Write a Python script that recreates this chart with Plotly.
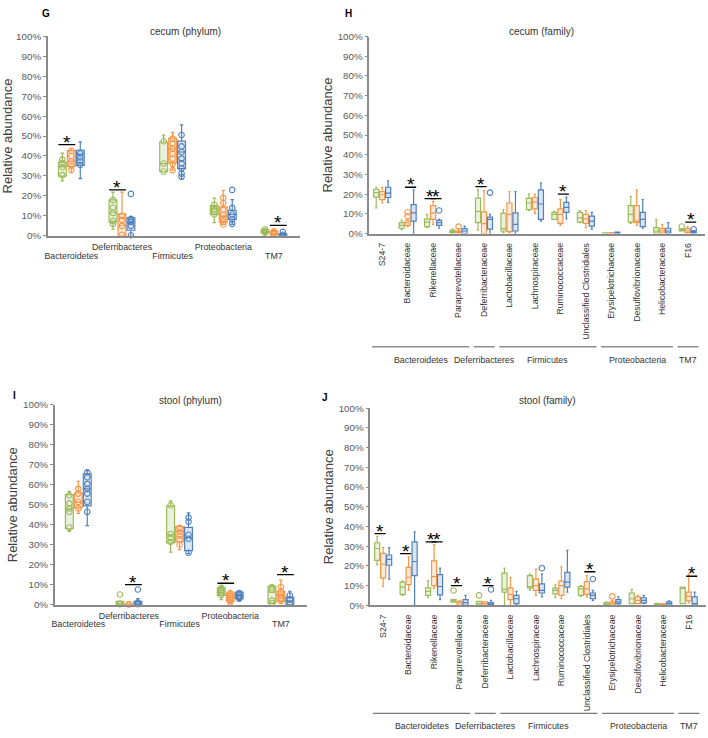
import plotly.graph_objects as go

# ---------------- data ----------------
phyla = ["Bacteroidetes", "Deferribacteres", "Firmicutes", "Proteobacteria", "TM7"]
families = ["S24-7", "Bacteroidaceae", "Rikenellaceae", "Paraprevotellaceae", "Deferribacteraceae",
            "Lactobacillaceae", "Lachnospiraceae", "Ruminococcaceae", "Unclassified Clostridiales",
            "Erysipelotrichaceae", "Desulfovibrionaceae", "Helicobacteraceae", "F16"]
family_groups = ["Bacteroidetes", "Deferribacteres", "Firmicutes", "Proteobacteria", "TM7"]
family_group_first = [0, 4, 5, 9, 12]
family_group_last = [3, 4, 8, 11, 12]

# cecum (phylum)  -- green / orange / blue groups
G_green_low = [27.5, 3.3, 32.0, 6.6, 1.0]
G_green_q1 = [29.9, 6.9, 32.1, 10.7, 1.5]
G_green_med = [34.5, 11.8, 36.2, 13.5, 2.0]
G_green_q3 = [36.8, 18.0, 47.0, 15.1, 3.0]
G_green_up = [41.4, 21.9, 50.5, 18.9, 3.8]
G_orange_low = [31.6, 0.0, 32.9, 5.7, 0.2]
G_orange_q1 = [34.8, 0.0, 36.5, 6.9, 0.5]
G_orange_med = [37.4, 5.3, 43.6, 9.9, 1.3]
G_orange_q3 = [42.7, 11.0, 49.0, 14.5, 2.3]
G_orange_up = [43.8, 21.9, 51.8, 22.7, 3.0]
G_blue_low = [28.7, 0.0, 28.3, 5.7, 0.0]
G_blue_q1 = [35.3, 2.8, 33.7, 8.2, 0.0]
G_blue_med = [41.0, 6.6, 42.0, 10.7, 0.4]
G_blue_q3 = [43.0, 9.0, 47.4, 12.8, 1.0]
G_blue_up = [47.1, 9.5, 55.6, 18.1, 1.2]
G_green_pts = [[38.2, 36.5, 34.5, 30.4], [18.0, 14.2, 11.5, 7.5, 6.0], [47.4, 36.2, 32.2],
               [15.6, 13.5, 12.2, 10.7], [3.2, 2.0, 1.6]]
G_orange_pts = [[42.5, 40.0, 37.4, 35.1, 33.0], [10.0, 8.0, 5.0, 0.5],
                [48.7, 46.2, 43.6, 41.1, 38.6, 36.0, 32.9], [19.0, 16.5, 13.0, 10.5, 8.5, 7.0, 5.7],
                [2.3, 1.5, 0.8]]
G_blue_pts = [[41.3, 39.3, 37.5, 35.5], [21.0, 8.5, 7.0, 5.0, 0.3],
              [50.5, 44.8, 42.0, 38.7, 36.3, 33.7, 31.2, 29.6], [23.0, 14.0, 10.7, 8.2, 6.0], [2.0, 0.5]]
G_sig_cat = [0, 1, 4]
G_sig_left = [0, 0, 1]
G_sig_y = [45.7, 23.0, 5.2]

# cecum (family)
H_green_low = [13.0, 2.0, 3.0, 0.0, 1.7, 0.5, 11.8, 7.2, 5.5, 0.0, 5.2, 0.0, 1.3]
H_green_q1 = [18.5, 2.7, 3.5, 0.3, 5.5, 1.3, 12.2, 7.2, 5.8, 0.0, 5.8, 0.2, 1.3]
H_green_med = [20.8, 4.2, 5.8, 1.0, 11.3, 2.5, 15.5, 9.7, 8.0, 0.1, 9.7, 1.3, 1.8]
H_green_q3 = [22.5, 5.5, 7.5, 1.7, 18.0, 10.2, 18.0, 10.8, 10.8, 0.3, 14.2, 3.0, 2.2]
H_green_up = [23.5, 6.8, 9.7, 2.2, 22.2, 12.2, 20.2, 11.3, 11.7, 0.4, 18.8, 7.2, 2.4]
H_orange_low = [15.5, 3.5, 4.7, 0.0, 0.0, 0.2, 10.2, 4.2, 3.0, 0.0, 4.2, 0.0, 0.2]
H_orange_q1 = [17.2, 4.2, 7.2, 0.3, 0.0, 1.0, 12.5, 5.2, 5.2, 0.0, 5.5, 0.2, 0.5]
H_orange_med = [19.7, 5.5, 10.5, 0.8, 5.0, 9.7, 16.0, 9.7, 7.5, 0.2, 6.3, 1.3, 1.3]
H_orange_q3 = [21.3, 6.5, 14.2, 1.3, 11.0, 15.5, 18.3, 12.5, 9.7, 0.4, 14.2, 2.5, 2.5]
H_orange_up = [23.5, 7.2, 16.3, 2.5, 21.8, 21.3, 20.0, 17.2, 11.7, 0.5, 22.2, 4.7, 3.5]
H_blue_low = [15.8, 0.0, 2.7, 0.0, 0.0, 0.0, 6.3, 7.5, 2.2, 0.0, 2.7, 0.0, 0.0]
H_blue_q1 = [18.3, 6.3, 4.2, 0.0, 2.2, 1.3, 7.2, 10.8, 3.8, 0.0, 3.5, 0.2, 0.2]
H_blue_med = [20.5, 10.5, 5.5, 1.3, 7.2, 4.7, 15.0, 13.3, 6.3, 0.3, 7.2, 1.3, 0.5]
H_blue_q3 = [23.5, 14.7, 6.7, 2.5, 8.3, 10.5, 22.2, 15.8, 8.8, 0.7, 10.8, 2.7, 1.3]
H_blue_up = [26.8, 22.2, 7.2, 3.8, 9.7, 21.3, 25.8, 18.5, 10.8, 0.8, 17.2, 5.5, 1.5]
H_green_pts = [[], [], [], [], [], [], [], [], [], [], [], [], [3.6]]
H_orange_pts = [[], [10.8, 8.8], [], [3.5], [], [], [], [], [], [], [], [], []]
H_blue_pts = [[], [], [11.7], [], [20.8], [], [], [], [], [], [], [], [2.2]]
H_sig_cat = [1, 2, 2, 4, 7, 12]
H_sig_left = [1, 0, 1, 0, 1, 1]
H_sig_y = [23.5, 17.7, 17.7, 23.8, 20.0, 5.8]

# stool (phylum)
I_green_low = [36.7, 0.0, 26.3, 2.5, 0.5]
I_green_q1 = [38.0, 0.0, 30.9, 4.6, 0.8]
I_green_med = [48.0, 0.5, 35.0, 6.3, 6.3]
I_green_q3 = [55.1, 1.6, 49.5, 8.4, 9.2]
I_green_up = [56.7, 1.6, 52.0, 9.0, 9.5]
I_orange_low = [45.7, 0.0, 27.6, 0.8, 0.8]
I_orange_q1 = [48.5, 0.0, 31.4, 1.8, 1.8]
I_orange_med = [51.5, 0.1, 36.7, 3.8, 4.6]
I_orange_q3 = [55.9, 0.3, 39.1, 5.8, 6.7]
I_orange_up = [61.8, 0.4, 39.6, 6.7, 12.3]
I_blue_low = [39.6, 0.0, 25.5, 2.1, 0.0]
I_blue_q1 = [49.5, 0.0, 27.1, 3.0, 0.0]
I_blue_med = [58.0, 0.8, 33.4, 4.6, 1.8]
I_blue_q3 = [65.5, 1.6, 38.7, 6.3, 3.8]
I_blue_up = [67.1, 3.0, 46.0, 6.7, 6.7]
I_green_pts = [[54.8, 50.7, 48.2, 46.5, 38.6], [5.1, 0.5, 0.2], [49.8, 35.4, 33.4, 31.4],
               [8.4, 7.0, 6.0, 4.8], [8.8, 7.5, 2.0, 0.8]]
I_orange_pts = [[58.0, 55.6, 51.5, 48.2], [0.2, 0.1], [38.5, 36.5, 34.5, 32.8, 30.0],
                [5.8, 4.6, 3.5, 2.3, 1.2], [8.8, 6.5, 4.6, 3.0, 1.8]]
I_blue_pts = [[66.3, 63.8, 60.5, 58.0, 55.6, 51.5, 46.5], [7.6, 1.0, 0.3],
              [43.6, 41.6, 35.0, 33.0, 26.0], [5.8, 4.6, 3.8, 3.0], [4.6, 2.5, 0.5]]
I_sig_cat = [1, 3, 4]
I_sig_left = [1, 0, 1]
I_sig_y = [10.0, 10.7, 15.0]

# stool (family)
J_green_low = [20.5, 5.0, 3.8, 1.5, 0.0, 0.0, 7.5, 3.8, 4.5, 0.0, 0.8, 0.0, 0.8]
J_green_q1 = [22.8, 5.5, 5.0, 1.5, 0.0, 6.7, 8.8, 5.8, 5.0, 0.0, 0.8, 0.0, 0.8]
J_green_med = [28.8, 9.2, 7.0, 2.2, 0.8, 8.0, 9.5, 7.5, 8.3, 0.5, 3.3, 0.3, 8.5]
J_green_q3 = [31.7, 11.7, 8.8, 2.8, 2.0, 16.3, 15.0, 8.7, 9.5, 1.2, 6.2, 0.8, 9.2]
J_green_up = [35.0, 12.2, 12.5, 2.8, 2.0, 18.8, 15.8, 10.3, 10.0, 1.7, 8.0, 1.0, 9.2]
J_orange_low = [9.5, 7.5, 8.7, 0.0, 0.0, 0.0, 5.0, 3.3, 4.2, 0.0, 0.8, 0.0, 1.2]
J_orange_q1 = [13.8, 10.5, 10.0, 0.0, 0.0, 2.8, 7.5, 5.0, 5.5, 0.0, 0.8, 0.0, 2.2]
J_orange_med = [20.8, 14.2, 14.5, 1.0, 0.8, 5.5, 10.0, 10.0, 8.3, 0.8, 2.5, 0.3, 4.5]
J_orange_q3 = [26.3, 19.2, 22.5, 1.8, 1.7, 8.8, 13.3, 12.2, 12.0, 1.7, 4.2, 0.7, 6.7]
J_orange_up = [29.2, 24.5, 30.8, 2.5, 1.7, 14.2, 18.3, 19.5, 15.0, 2.5, 5.0, 0.8, 15.8]
J_blue_low = [13.3, 0.0, 2.8, 0.0, 0.0, 0.0, 4.2, 6.7, 2.5, 0.0, 0.8, 0.0, 0.0]
J_blue_q1 = [20.3, 15.0, 5.3, 0.0, 0.0, 0.8, 6.2, 9.2, 3.3, 0.8, 1.2, 0.0, 0.0]
J_blue_med = [23.3, 22.2, 9.5, 1.3, 0.6, 3.3, 7.5, 11.7, 5.0, 1.7, 2.5, 0.8, 0.8]
J_blue_q3 = [25.5, 32.2, 15.5, 2.8, 1.3, 5.0, 10.8, 16.7, 6.2, 2.8, 3.8, 1.7, 4.2]
J_blue_up = [29.2, 37.2, 18.8, 5.0, 2.5, 7.0, 15.8, 27.8, 7.5, 4.2, 5.0, 2.2, 6.7]
J_green_pts = [[], [], [], [7.5], [5.0], [], [], [], [], [], [], [], []]
J_orange_pts = [[], [], [], [], [], [], [], [], [], [4.5], [], [], []]
J_blue_pts = [[], [], [], [], [8.0], [], [18.8], [], [13.3], [], [], [], []]
J_sig_cat = [0, 1, 2, 2, 3, 4, 8, 12]
J_sig_left = [0, 0, 0, 1, 0, 1, 1, 1]
J_sig_y = [36.3, 26.2, 32.2, 32.2, 10.0, 10.0, 17.0, 14.7]

# ---------------- styling ----------------
W, H = 708, 738
FONT = "Arial, Liberation Sans, sans-serif"
line_colors = ["#9BBB59", "#F79646", "#4F81BD"]
fill_colors = ["rgba(155,187,89,0.2)", "rgba(247,150,70,0.2)", "rgba(79,129,189,0.2)"]
AXIS_GRAY = "#8a8a8a"
PH_RANGE = [-0.464, 4.51]
FAM_RANGE = [-0.5, 12.68]


def px_x(p):
    return p / W


def px_y(p):
    return 1 - p / H


fig = go.Figure()

panels = [
    dict(key="G", xa="x", ya="y", cats=phyla,
         stats=[(G_green_low, G_green_q1, G_green_med, G_green_q3, G_green_up),
                (G_orange_low, G_orange_q1, G_orange_med, G_orange_q3, G_orange_up),
                (G_blue_low, G_blue_q1, G_blue_med, G_blue_q3, G_blue_up)],
         pts=[G_green_pts, G_orange_pts, G_blue_pts],
         sig=(G_sig_cat, G_sig_left, G_sig_y), off=0.177, bw=0.155),
    dict(key="H", xa="x2", ya="y2", cats=families,
         stats=[(H_green_low, H_green_q1, H_green_med, H_green_q3, H_green_up),
                (H_orange_low, H_orange_q1, H_orange_med, H_orange_q3, H_orange_up),
                (H_blue_low, H_blue_q1, H_blue_med, H_blue_q3, H_blue_up)],
         pts=[H_green_pts, H_orange_pts, H_blue_pts],
         sig=(H_sig_cat, H_sig_left, H_sig_y), off=0.235, bw=0.2),
    dict(key="I", xa="x3", ya="y3", cats=phyla,
         stats=[(I_green_low, I_green_q1, I_green_med, I_green_q3, I_green_up),
                (I_orange_low, I_orange_q1, I_orange_med, I_orange_q3, I_orange_up),
                (I_blue_low, I_blue_q1, I_blue_med, I_blue_q3, I_blue_up)],
         pts=[I_green_pts, I_orange_pts, I_blue_pts],
         sig=(I_sig_cat, I_sig_left, I_sig_y), off=0.177, bw=0.155),
    dict(key="J", xa="x4", ya="y4", cats=families,
         stats=[(J_green_low, J_green_q1, J_green_med, J_green_q3, J_green_up),
                (J_orange_low, J_orange_q1, J_orange_med, J_orange_q3, J_orange_up),
                (J_blue_low, J_blue_q1, J_blue_med, J_blue_q3, J_blue_up)],
         pts=[J_green_pts, J_orange_pts, J_blue_pts],
         sig=(J_sig_cat, J_sig_left, J_sig_y), off=0.235, bw=0.2),
]

shapes = []
annotations = []

for p in panels:
    n = len(p["cats"])
    offs = [-p["off"], 0.0, p["off"]]
    for g in range(3):
        low, q1, med, q3, up = p["stats"][g]
        xs = [i + offs[g] for i in range(n)]
        fig.add_trace(go.Box(
            x=xs, lowerfence=low, q1=q1, median=med, q3=q3, upperfence=up,
            width=p["bw"], fillcolor=fill_colors[g],
            line=dict(color=line_colors[g], width=1.2), whiskerwidth=0.45,
            boxpoints=False, showlegend=False, hoverinfo="skip",
            xaxis=p["xa"], yaxis=p["ya"]))
        px_, py_ = [], []
        for i, vals in enumerate(p["pts"][g]):
            for v in vals:
                px_.append(i + offs[g])
                py_.append(v)
        if px_:
            fig.add_trace(go.Scatter(
                x=px_, y=py_, mode="markers", showlegend=False, hoverinfo="skip",
                marker=dict(symbol="circle-open", size=5.5, color=line_colors[g], line=dict(width=1.1)),
                xaxis=p["xa"], yaxis=p["ya"], cliponaxis=False))
    # significance bars
    cats_s, left_s, ys = p["sig"]
    for c, l, yv in zip(cats_s, left_s, ys):
        x0 = c + offs[l] - p["bw"] / 2
        x1 = c + offs[l + 1] + p["bw"] / 2
        shapes.append(dict(type="line", xref=p["xa"], yref=p["ya"], x0=x0, x1=x1, y0=yv, y1=yv,
                           line=dict(color="black", width=1.3)))
        annotations.append(dict(xref=p["xa"], yref=p["ya"], x=(x0 + x1) / 2, y=yv, text="*",
                                showarrow=False, xanchor="center", yanchor="bottom", yshift=-10,
                                font=dict(family=FONT, size=19, color="black")))

ph_upper_idx = [i for i in range(len(phyla)) if i % 2 == 1]
ph_lower_idx = [i for i in range(len(phyla)) if i % 2 == 0]

# invisible anchor traces so the lower-row label axes are drawn
for xa, ya in [("x5", "y"), ("x6", "y3")]:
    fig.add_trace(go.Scatter(x=ph_lower_idx, y=[0] * len(ph_lower_idx), mode="markers",
                             marker=dict(opacity=0, size=1), showlegend=False, hoverinfo="skip",
                             xaxis=xa, yaxis=ya))


# ---------------- axes ----------------
def yaxis(domain, anchor):
    return dict(domain=domain, anchor=anchor, range=[0, 100], dtick=10, ticksuffix="%",
                showgrid=False, zeroline=False, showline=True, linecolor=AXIS_GRAY, linewidth=1.5,
                ticks="outside", ticklen=3, tickcolor=AXIS_GRAY,
                tickfont=dict(family=FONT, size=9.8, color="#595959"),
                title=dict(text="Relative abundance", font=dict(family=FONT, size=13, color="#404040"),
                           standoff=2))


def xaxis_phylum(domain, anchor):
    # upper row of staggered labels (Deferribacteres, Proteobacteria)
    return dict(domain=domain, anchor=anchor, range=PH_RANGE, tickmode="array",
                tickvals=ph_upper_idx, ticktext=[phyla[i] for i in ph_upper_idx],
                ticks="", tickangle=0, ticklabelstandoff=2, showgrid=False, zeroline=False,
                showline=True, linecolor=AXIS_GRAY, linewidth=2,
                tickfont=dict(family=FONT, size=8.8, color="#333333"))


def xaxis_phylum_lower(over, anchor):
    # lower row of staggered labels (Bacteroidetes, Firmicutes, TM7)
    return dict(overlaying=over, anchor=anchor, range=PH_RANGE, tickmode="array",
                tickvals=ph_lower_idx, ticktext=[phyla[i] for i in ph_lower_idx],
                ticks="", tickangle=0, ticklabelstandoff=13, showgrid=False, zeroline=False,
                showline=False, side="bottom",
                tickfont=dict(family=FONT, size=8.8, color="#333333"))


def xaxis_family(domain, anchor):
    return dict(domain=domain, anchor=anchor, range=FAM_RANGE, tickmode="array",
                tickvals=list(range(len(families))), ticktext=families, tickangle=-90, ticks="",
                ticklabelstandoff=4, showgrid=False, zeroline=False, showline=True,
                linecolor=AXIS_GRAY, linewidth=2,
                tickfont=dict(family=FONT, size=8.7, color="#333333"))


layout = dict(
    width=W, height=H, margin=dict(l=0, r=0, t=0, b=0),
    paper_bgcolor="white", plot_bgcolor="white", showlegend=False,
    xaxis=xaxis_phylum([px_x(45), px_x(298)], "y"),
    yaxis=yaxis([px_y(233.3), px_y(30.7)], "x"),
    xaxis2=xaxis_family([px_x(368), px_x(705)], "y2"),
    yaxis2=yaxis([px_y(231), px_y(31)], "x2"),
    xaxis3=xaxis_phylum([px_x(52), px_x(305)], "y3"),
    yaxis3=yaxis([px_y(607.7), px_y(405)], "x3"),
    xaxis4=xaxis_family([px_x(369), px_x(706)], "y4"),
    yaxis4=yaxis([px_y(608.3), px_y(408.3)], "x4"),
    xaxis5=xaxis_phylum_lower("x", "y"),
    xaxis6=xaxis_phylum_lower("x3", "y3"),
)

# phylum group brackets under the family panels
for xa, line_y, lab_y in [("x2", 346, 359), ("x4", 718, 731)]:
    for name, f, l in zip(family_groups, family_group_first, family_group_last):
        x0 = max(f - 0.4, FAM_RANGE[0])
        x1 = min(l + 0.42, FAM_RANGE[1])
        shapes.append(dict(type="line", xref=xa, yref="paper", x0=x0, x1=x1,
                           y0=px_y(line_y), y1=px_y(line_y), line=dict(color="#555555", width=1)))
        annotations.append(dict(xref=xa, yref="paper", x=(x0 + x1) / 2, y=px_y(lab_y), text=name,
                                showarrow=False, xanchor="center", yanchor="middle",
                                font=dict(family=FONT, size=8.8, color="#333333")))

# panel titles and letters
for txt, x, y in [("cecum (phylum)", 183, 26), ("cecum (family)", 541, 26),
                  ("stool (phylum)", 188, 400), ("stool (family)", 547, 400)]:
    annotations.append(dict(xref="paper", yref="paper", x=px_x(x), y=px_y(y), text=txt,
                            showarrow=False, xanchor="center", yanchor="middle",
                            font=dict(family=FONT, size=10, color="#333333")))
for txt, x, y in [("G", 43, 8), ("H", 347, 8), ("I", 12, 395), ("J", 323, 397)]:
    annotations.append(dict(xref="paper", yref="paper", x=px_x(x), y=px_y(y), text="<b>" + txt + "</b>",
                            showarrow=False, xanchor="center", yanchor="middle",
                            font=dict(family=FONT, size=10, color="black")))

layout["shapes"] = shapes
layout["annotations"] = annotations
fig.update_layout(**layout)
fig.write_html("out.html", config={"displayModeBar": False},
               post_script="document.body.style.margin='0px';")
